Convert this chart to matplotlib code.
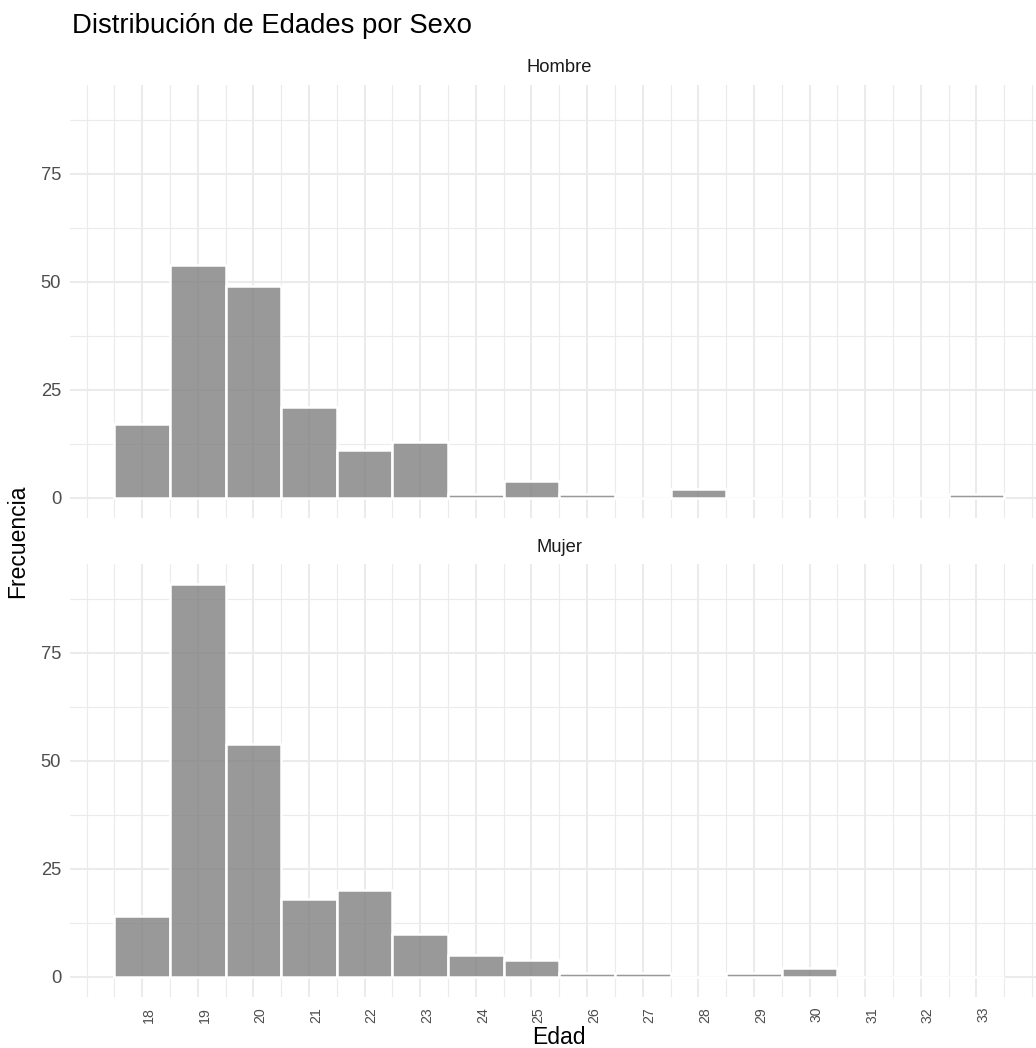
import matplotlib
matplotlib.use('Agg')
import matplotlib.pyplot as plt
import numpy as np

# ---- data ----
edades = list(range(18, 34))
hombre = [17, 54, 49, 21, 11, 13, 1, 4, 1, 0, 2, 0, 0, 0, 0, 1]
mujer = [14, 91, 54, 18, 20, 10, 5, 4, 1, 1, 0, 1, 2, 0, 0, 0]
paneles = ['Hombre', 'Mujer']
y_breaks = [0, 25, 50, 75]
titulo = 'Distribución de Edades por Sexo'
x_titulo = 'Edad'
y_titulo = 'Frecuencia'

plt.rcParams['font.family'] = ['Liberation Sans', 'DejaVu Sans']

W, H, DPI = 1036, 1048, 150
fig = plt.figure(figsize=(W / DPI, H / DPI), dpi=DPI)
fig.patch.set_facecolor('white')


def px_axes(x0, y0, x1, y1):
    return fig.add_axes([x0 / W, 1 - y1 / H, (x1 - x0) / W, (y1 - y0) / H])


# scales (ggplot-like 5% expansion)
lo, hi = min(edades) - 0.5, max(edades) + 0.5
ex = 0.05 * (hi - lo)
xlim = (lo - ex, hi + ex)
ymax = max(max(hombre), max(mujer))
ylim = (-0.05 * ymax, ymax * 1.05)

boxes = [(70, 85, 1048.6, 517.5), (70, 564, 1048.6, 996.5)]
series = [hombre, mujer]
grid_c = '#EBEBEB'
txt_c = '#4D4D4D'

minor_x = np.arange(min(edades) - 1, max(edades) + 1.01, 0.5)

for i, (name, counts, box) in enumerate(zip(paneles, series, boxes)):
    ax = px_axes(*box)
    ax.set_facecolor('white')
    ax.bar(edades, counts, width=1.0, color=(0.5, 0.5, 0.5, 0.8),
           edgecolor='white', linewidth=1.2, zorder=2)
    ax.set_xticks(edades)
    ax.set_xticks(minor_x, minor=True)
    ax.set_yticks(y_breaks)
    ax.set_yticks([b + 12.5 for b in y_breaks], minor=True)
    ax.set_xlim(*xlim)
    ax.set_ylim(*ylim)
    ax.grid(which='major', color=grid_c, linewidth=1.0, zorder=0)
    ax.grid(which='minor', color=grid_c, linewidth=0.55, zorder=0)
    ax.set_axisbelow(True)
    for s in ax.spines.values():
        s.set_visible(False)
    ax.tick_params(which='both', length=0)
    ax.tick_params(axis='y', labelsize=8.8, labelcolor=txt_c, pad=4.3)
    if i == 0:
        ax.tick_params(axis='x', labelbottom=False)
    else:
        ax.set_xticklabels([str(e) for e in edades])
        ax.tick_params(axis='x', labelsize=6.8, labelcolor=txt_c, pad=5.0)
        for lab in ax.get_xticklabels():
            lab.set_rotation(90)
            lab.set_ha('left')
    # strip label
    cx = (box[0] + box[2]) / 2
    fig.text(cx / W, 1 - (box[1] - 17) / H, name, ha='center', va='center',
             fontsize=8.8, color='#1A1A1A')

fig.text(72 / W, 1 - 33 / H, titulo, ha='left', va='baseline', fontsize=13.2, color='black')
fig.text(559 / W, 1 - 1037 / H, x_titulo, ha='center', va='center', fontsize=11, color='black')
fig.text(18 / W, 1 - 541 / H, y_titulo, ha='center', va='center', rotation=90,
         fontsize=11, color='black')

fig.savefig('out.png', dpi=DPI, facecolor='white')
